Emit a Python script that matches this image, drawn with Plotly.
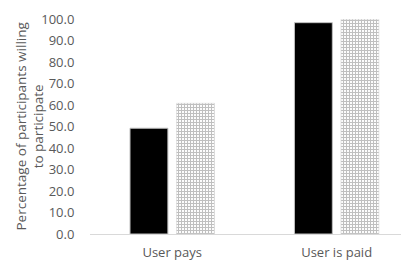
import plotly.graph_objects as go

categories = ["User pays", "User is paid"]
series_a = [49.2, 98.3]
series_b = [60.8, 99.9]
y_ticks = [0, 10, 20, 30, 40, 50, 60, 70, 80, 90, 100]
y_title = "Percentage of participants willing<br>to participate"

fig = go.Figure()
fig.add_trace(go.Bar(
    x=categories, y=series_a, name="A",
    marker=dict(color="black", line=dict(color="#bfbfbf", width=1)),
))
fig.add_trace(go.Bar(
    x=categories, y=series_b, name="B",
    marker=dict(color="white", line=dict(color="#d0d0d0", width=0.5),
                pattern=dict(shape="+", fgcolor="#808080", bgcolor="#ffffff",
                             size=3, solidity=0.6)),
))

# page body has an 8px default margin, so the figure is sized to fill the window
fig.update_layout(
    width=401, height=254,
    margin=dict(l=82, r=0, t=11, b=28),
    paper_bgcolor="white", plot_bgcolor="white",
    showlegend=False,
    barmode="group", bargap=0.434, bargroupgap=0.186,
    font=dict(family="Open Sans, Noto Sans, sans-serif", size=12, color="#595959"),
)
fig.update_xaxes(
    range=[-0.5, 1.44], showline=True, linecolor="#d9d9d9", linewidth=1,
    showgrid=False, ticks="", automargin=False, ticklabelstandoff=6,
    tickfont=dict(size=13, color="#595959"),
)
fig.update_yaxes(
    range=[0, 100], tickvals=y_ticks, tickformat=".1f", showgrid=False,
    zeroline=False, showline=False, automargin=False,
    ticks="outside", ticklen=12, tickcolor="rgba(0,0,0,0)",
    tickfont=dict(size=13, color="#595959"),
)
fig.add_annotation(
    text=y_title, xref="paper", yref="paper", x=0, y=0.5,
    xanchor="center", yanchor="middle", xshift=-61, textangle=-90,
    showarrow=False, font=dict(size=13.5, color="#595959"),
)

fig.write_html("out.html")
